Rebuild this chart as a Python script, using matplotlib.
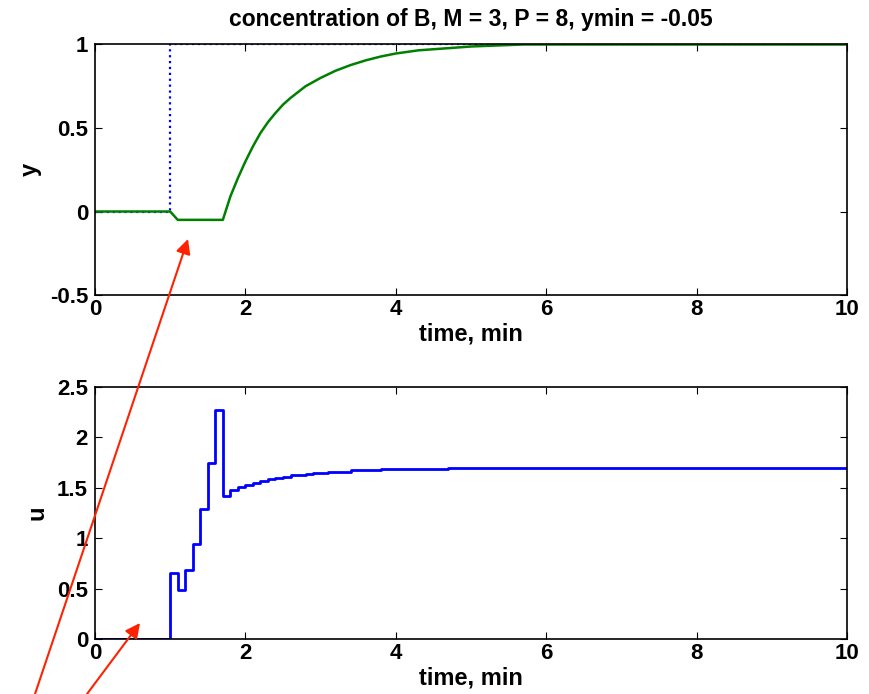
import matplotlib
matplotlib.use('Agg')
import matplotlib.pyplot as plt

# setpoint
r_t = [0, 1.0, 1.0, 10]
r_v = [0, 0, 1, 1]

# output y (concentration of B)
y_t = [0, 1.0, 1.1, 1.7, 1.8, 1.9, 2.0, 2.1, 2.2, 2.3, 2.4, 2.5, 2.6, 2.8, 3.0,
       3.2, 3.4, 3.6, 3.8, 4.0, 4.3, 4.7, 5.0, 5.7, 10]
y_v = [0, 0, -0.05, -0.05, 0.09, 0.2, 0.3, 0.39, 0.47, 0.535, 0.59, 0.64, 0.68, 0.75, 0.80,
       0.843, 0.877, 0.905, 0.928, 0.946, 0.965, 0.978, 0.988, 1.0, 1.0]

# manipulated input u (zero-order hold)
u_t = [0, 1.0, 1.1, 1.2, 1.3, 1.4, 1.5, 1.6, 1.7, 1.8, 1.9, 2.0, 2.1, 2.2, 2.3,
       2.4, 2.5, 2.6, 2.8, 2.9, 3.1, 3.4, 3.8, 4.7, 10]
u_v = [0, 0.65, 0.49, 0.68, 0.94, 1.29, 1.75, 2.27, 1.42, 1.48, 1.51, 1.53, 1.55, 1.57, 1.587,
       1.60, 1.61, 1.627, 1.636, 1.646, 1.66, 1.673, 1.683, 1.70, 1.70]

plt.rcParams['font.family'] = ['Liberation Sans', 'DejaVu Sans']
plt.rcParams['font.weight'] = 'bold'
plt.rcParams['font.size'] = 14

fig = plt.figure(figsize=(8.7, 6.94), dpi=100)
ax1 = fig.add_axes([0.1092, 0.5749, 0.8644, 0.361])
ax2 = fig.add_axes([0.1092, 0.0793, 0.8644, 0.3631])

ax1.plot(r_t, r_v, ':', color='blue', lw=1.6)
ax1.plot(y_t, y_v, '-', color='#008000', lw=1.8)
ax1.set_xlim(0, 10)
ax1.set_ylim(-0.5, 1)
ax1.set_yticks([-0.5, 0, 0.5, 1])
ax1.set_yticklabels(['-0.5', '0', '0.5', '1'])
ax1.set_xlabel('time, min', fontweight='bold', fontsize=17, labelpad=2)
ax1.set_ylabel('y', fontweight='bold', fontsize=17, labelpad=6)
ax1.set_title('concentration of B, M = 3, P = 8, ymin = -0.05', fontweight='bold',
              fontsize=16.5, pad=13)

ax2.step(u_t, u_v, where='post', color='blue', lw=2)
ax2.set_xlim(0, 10)
ax2.set_ylim(0, 2.5)
ax2.set_yticks([0, 0.5, 1, 1.5, 2, 2.5])
ax2.set_yticklabels(['0', '0.5', '1', '1.5', '2', '2.5'])
ax2.set_xlabel('time, min', fontweight='bold', fontsize=17, labelpad=2)
ax2.set_ylabel('u', fontweight='bold', fontsize=17, labelpad=6)

for ax in (ax1, ax2):
    ax.set_xticks([0, 2, 4, 6, 8, 10])
    ax.set_xticklabels(['0', '2', '4', '6', '8', '10'])
    ax.tick_params(direction='in', top=True, right=True, length=5, width=0.8,
                   labelsize=16)
    ax.tick_params(axis='x', pad=3)
    ax.tick_params(axis='y', pad=5)
    for s in ax.spines.values():
        s.set_linewidth(1.2)

# red annotation arrows
arrow = dict(arrowstyle='-|>', color='#ff2200', lw=1.5, mutation_scale=22,
             shrinkA=0, shrinkB=0)
ax2.annotate('', xy=(188, 455), xytext=(35, 0), xycoords='figure pixels',
             textcoords='figure pixels', arrowprops=arrow, annotation_clip=False)
ax2.annotate('', xy=(140, 71), xytext=(87, 0), xycoords='figure pixels',
             textcoords='figure pixels', arrowprops=arrow, annotation_clip=False)

plt.savefig('out.png', dpi=100)
